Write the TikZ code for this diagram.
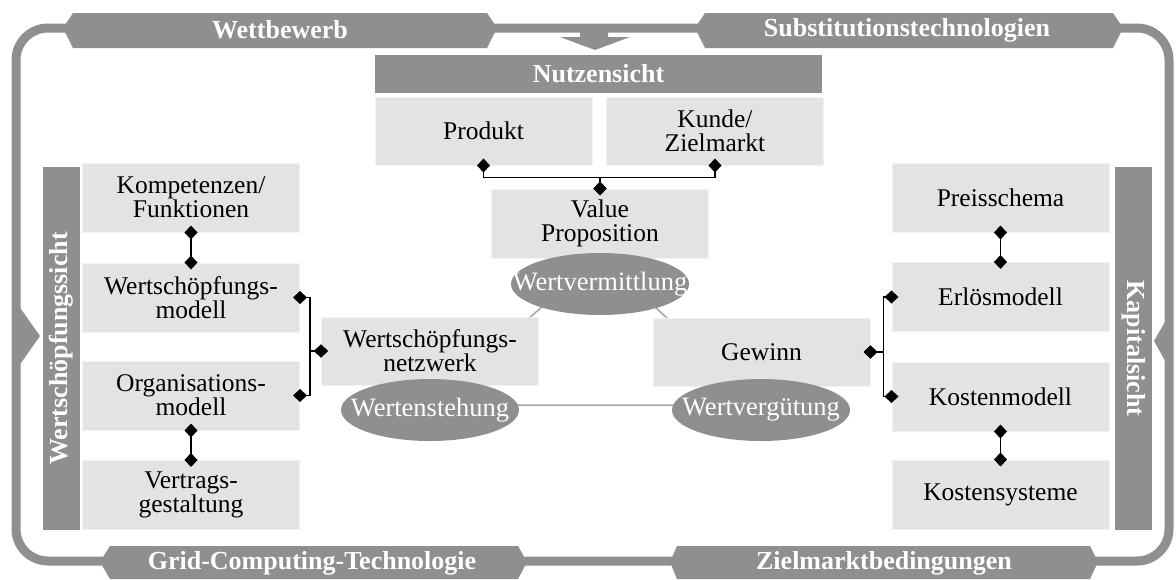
\documentclass[tikz,border=0pt]{standalone}
\usepackage{fontspec}
\setmainfont{Liberation Serif}
\usetikzlibrary{shapes.geometric,arrows.meta}

\definecolor{dunkel}{gray}{0.56}
\definecolor{hell}{gray}{0.89}

\begin{document}
\begin{tikzpicture}[x=1pt,y=-1pt,
	feld/.style={rectangle,fill=hell,draw=gray!10,line width=1pt,minimum width=217pt,minimum height=69pt,inner sep=2pt,align=center,font=\fontsize{25.5}{24}\selectfont},
	sicht/.style={rectangle,fill=dunkel,text=white,inner sep=0pt,font=\bfseries\fontsize{26}{26}\selectfont},
	wert/.style={ellipse,fill=dunkel,minimum width=178pt,minimum height=62pt,inner sep=0pt},
	werttext/.style={text=white,inner sep=0pt,font=\fontsize{26.5}{26}\selectfont},
	band/.style={fill=dunkel},
	bandtext/.style={text=white,inner sep=0pt,font=\bfseries\fontsize{26}{26}\selectfont},
	verb/.style={{Diamond[length=14pt,width=13pt]}-{Diamond[length=14pt,width=13pt]},line width=1.8pt,shorten <=-7pt,shorten >=-7pt},
	dreieck/.style={draw=gray!70,line width=1.5pt}]
	\useasboundingbox (0,0) rectangle (1176,579);

	% Rahmen mit Umfeld
	\draw[dunkel,line width=9pt,rounded corners=32pt] (16,28) rectangle (1169,561);
	\fill[band]	(63,28) -- (73,13) -- (487,13) -- (497,28) -- (487,48) -- (73,48) -- cycle;
	\fill[band]	(695,28) -- (705,13) -- (1113,13) -- (1123,28) -- (1113,48) -- (705,48) -- cycle;
	\fill[band]	(100,562) -- (110,546) -- (518,546) -- (527,562) -- (518,579) -- (110,579) -- cycle;
	\fill[band]	(670,562) -- (677,546) -- (1090,546) -- (1098,562) -- (1090,579) -- (677,579) -- cycle;
	\fill[band]	(580,28) -- (608,28) -- (608,37) -- (630,37) -- (595,50) -- (560,37) -- (580,37) -- cycle;
	\fill[band]	(16,302) -- (40,336) -- (16,370) -- cycle;
	\fill[band]	(1169,315) -- (1154,341) -- (1169,368) -- cycle;

	\node[bandtext]	(wettbewerb)	at	(280,30)	{Wettbewerb};
	\node[bandtext]	(substitution)	at	(907,30)	{Substitutionstechnologien};
	\node[bandtext]	(grid)		at	(312,563)	{Grid-Computing-Technologie};
	\node[bandtext]	(zielmarkt)	at	(884,563)	{Zielmarktbedingungen};

	% Dreieck der Werte
	\coordinate	(v)	at	(600,256);
	\coordinate	(e)	at	(430,405);
	\coordinate	(g)	at	(761,405);
	\draw[dreieck]	(v) -- (e) -- (g) -- cycle;

	% Nutzensicht
	\node[sicht,minimum width=447pt,minimum height=38pt]	(nutzen)	at	(598.5,74)	{Nutzensicht};
	\node[feld,minimum height=68pt]	(produkt)	at	(483.5,131)	{Produkt};
	\node[feld,minimum height=68pt]	(kunde)		at	(715,131)	{Kunde/\\Zielmarkt};
	\node[feld]	(vp)		at	(600,223.5)	{Value\\Proposition};

	% Wertschoepfungssicht
	\node[sicht,minimum width=37pt,minimum height=363pt]	(wsicht)	at	(61.5,348.5)	{\rotatebox{90}{Wertschöpfungssicht}};
	\node[feld]	(komp)		at	(191,197.5)	{Kompetenzen/\\Funktionen};
	\node[feld]	(wsm)		at	(191,297.5)	{Wertschöpfungs-\\modell};
	\node[feld]	(org)		at	(191,395.5)	{Organisations-\\modell};
	\node[feld]	(vertrag)	at	(191,495)	{Vertrags-\\gestaltung};
	\node[feld,minimum height=68pt]	(netz)		at	(430,351)	{Wertschöpfungs-\\netzwerk};

	% Kapitalsicht
	\node[sicht,minimum width=37pt,minimum height=363pt]	(ksicht)	at	(1133.5,348.5)	{\rotatebox{-90}{Kapitalsicht}};
	\node[feld]	(preis)		at	(1000.5,197.5)	{Preisschema};
	\node[feld]	(erloes)	at	(1000.5,297)	{Erlösmodell};
	\node[feld]	(kostm)		at	(1000.5,396.5)	{Kostenmodell};
	\node[feld]	(kosts)		at	(1000.5,494.5)	{Kostensysteme};
	\node[feld,minimum height=68pt]	(gewinn)	at	(761.5,352)	{Gewinn};

	% Werte
	\node[wert,label={[werttext]center:Wertvermittlung}]	(wverm)		at	(600,284)	{};
	\node[wert,label={[werttext]center:Wertenstehung}]	(wentst)	at	(430,410)	{};
	\node[wert,label={[werttext]center:Wertvergütung}]	(wverg)		at	(761,410)	{};

	\draw[verb]	(produkt.south) -- ++(0,12) -| (vp.north);
	\draw[verb]	(kunde.south) -- ++(0,12) -| (vp.north);
	\draw[verb]	(komp.south) -- (wsm.north);
	\draw[verb]	(org.south) -- (vertrag.north);
	\draw[verb]	(wsm.east) -- ++(10,0) |- (netz.west);
	\draw[verb]	(org.east) -- ++(10,0) |- (netz.west);
	\draw[verb]	(preis.south) -- (erloes.north);
	\draw[verb]	(kostm.south) -- (kosts.north);
	\draw[verb]	(gewinn.east) -- ++(13,0) |- (erloes.west);
	\draw[verb]	(gewinn.east) -- ++(13,0) |- (kostm.west);
\end{tikzpicture}
\end{document}
